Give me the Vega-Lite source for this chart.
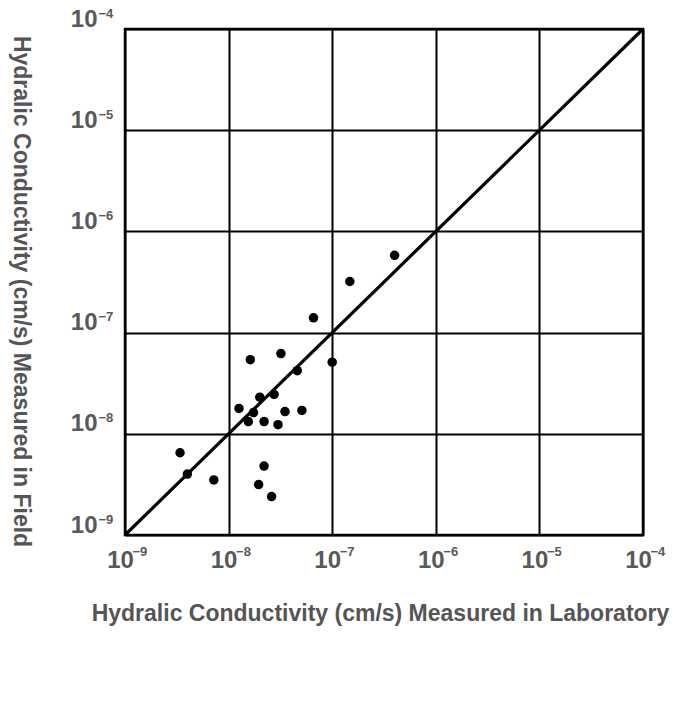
{
  "$schema": "https://vega.github.io/schema/vega-lite/v6.json",
  "width": 518,
  "height": 506,
  "autosize": "none",
  "padding": {"left": 125, "top": 29, "right": 34, "bottom": 182},
  "background": "white",
  "config": {
    "view": {"stroke": "black", "strokeWidth": 2.5},
    "font": "Liberation Sans",
    "axis": {
      "domain": false,
      "ticks": false,
      "tickSize": 0,
      "labelFlush": false,
      "labelOverlap": false,
      "labelBound": false,
      "labelFont": "Liberation Sans",
      "labelFontWeight": "bold",
      "labelColor": "#595959",
      "titleFont": "Liberation Sans",
      "titleFontSize": 23,
      "titleFontWeight": "bold",
      "titleColor": "#555555"
    }
  },
  "datasets": {
    "field_vs_lab": [
      {"lab": 4.0e-7, "field": 5.8e-7},
      {"lab": 1.48e-7, "field": 3.2e-7},
      {"lab": 6.6e-8, "field": 1.4e-7},
      {"lab": 3.2e-8, "field": 6.2e-8},
      {"lab": 1.62e-8, "field": 5.4e-8},
      {"lab": 1.0e-7, "field": 5.1e-8},
      {"lab": 4.6e-8, "field": 4.2e-8},
      {"lab": 2.75e-8, "field": 2.45e-8},
      {"lab": 2.0e-8, "field": 2.3e-8},
      {"lab": 1.26e-8, "field": 1.78e-8},
      {"lab": 1.74e-8, "field": 1.62e-8},
      {"lab": 3.5e-8, "field": 1.66e-8},
      {"lab": 5.1e-8, "field": 1.7e-8},
      {"lab": 1.55e-8, "field": 1.32e-8},
      {"lab": 2.2e-8, "field": 1.32e-8},
      {"lab": 3.0e-8, "field": 1.23e-8},
      {"lab": 3.4e-9, "field": 6.5e-9},
      {"lab": 4.0e-9, "field": 4.0e-9},
      {"lab": 7.2e-9, "field": 3.5e-9},
      {"lab": 2.2e-8, "field": 4.8e-9},
      {"lab": 1.95e-8, "field": 3.15e-9},
      {"lab": 2.6e-8, "field": 2.4e-9}
    ],
    "equality_line": [
      {"lab": 1e-9, "field": 1e-9},
      {"lab": 1e-4, "field": 1e-4}
    ]
  },
  "resolve": {"axis": {"x": "independent", "y": "independent"}},
  "layer": [
    {
      "data": {"name": "equality_line"},
      "mark": {"type": "line", "color": "black", "strokeWidth": 3.2},
      "encoding": {
        "x": {
          "field": "lab",
          "type": "quantitative",
          "scale": {"type": "log", "domain": [1e-9, 1e-4], "nice": false},
          "axis": {
            "orient": "bottom",
            "values": [1e-9, 1e-8, 1e-7, 1e-6, 1e-5, 1e-4],
            "labelExpr": "'10'",
            "labelFontSize": 24,
            "labelPadding": 25,
            "labelOffset": -5,
            "labelBaseline": "middle",
            "grid": true,
            "gridColor": "black",
            "gridWidth": 2,
            "gridOpacity": 1,
            "title": "Hydralic Conductivity (cm/s) Measured in Laboratory",
            "titleY": 78,
            "titleBaseline": "middle",
            "titleX": 255
          }
        },
        "y": {
          "field": "field",
          "type": "quantitative",
          "scale": {"type": "log", "domain": [1e-9, 1e-4], "nice": false},
          "axis": {
            "orient": "left",
            "values": [1e-9, 1e-8, 1e-7, 1e-6, 1e-5, 1e-4],
            "labelExpr": "'10'",
            "labelFontSize": 24,
            "labelPadding": 28,
            "labelOffset": -10,
            "labelBaseline": "middle",
            "grid": true,
            "gridColor": "black",
            "gridWidth": 2,
            "gridOpacity": 1,
            "title": "Hydralic Conductivity (cm/s) Measured in Field",
            "titleAngle": 90,
            "titleX": -105,
            "titleY": 262,
            "titleBaseline": "middle"
          }
        }
      }
    },
    {
      "data": {"name": "field_vs_lab"},
      "mark": {"type": "circle", "color": "black", "opacity": 1, "size": 90},
      "encoding": {
        "x": {
          "field": "lab",
          "type": "quantitative",
          "axis": {
            "orient": "bottom",
            "values": [1e-9, 1e-8, 1e-7, 1e-6, 1e-5, 1e-4],
            "labelExpr": "format(round(log(datum.value)/LN10), 'd')",
            "labelFontSize": 13,
            "labelAlign": "left",
            "labelPadding": 16,
            "labelOffset": 7,
            "labelBaseline": "middle",
            "grid": false,
            "title": null
          }
        },
        "y": {
          "field": "field",
          "type": "quantitative",
          "axis": {
            "orient": "left",
            "values": [1e-9, 1e-8, 1e-7, 1e-6, 1e-5, 1e-4],
            "labelExpr": "format(round(log(datum.value)/LN10), 'd')",
            "labelFontSize": 13,
            "labelAlign": "left",
            "labelPadding": 27,
            "labelOffset": -16,
            "labelBaseline": "middle",
            "grid": false,
            "title": null
          }
        }
      }
    }
  ]
}
